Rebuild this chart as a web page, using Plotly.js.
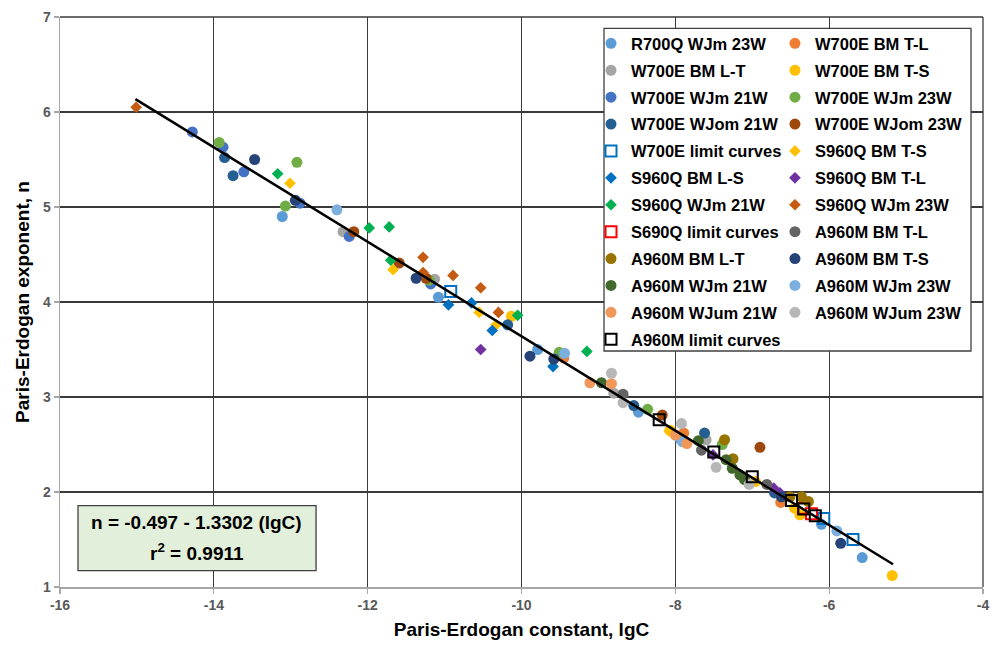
<!DOCTYPE html>
<html>
<head>
<meta charset="utf-8">
<script src="https://cdn.plot.ly/plotly-3.0.1.min.js"></script>
<style>
  html, body { margin: 0; padding: 0; background: #ffffff; }
  #chart { width: 998px; height: 645px; }
</style>
</head>
<body>
<div id="chart"></div>
<script>
// ---------------- data ----------------
const seriesNames = [
  "R700Q WJm 23W", "W700E BM T-L", "W700E BM L-T", "W700E BM T-S",
  "W700E WJm 21W", "W700E WJm 23W", "W700E WJom 21W", "W700E WJom 23W",
  "W700E limit curves", "S960Q BM T-S", "S960Q BM L-S", "S960Q BM T-L",
  "S960Q WJm 21W", "S960Q WJm 23W", "S690Q limit curves", "A960M BM T-L",
  "A960M BM L-T", "A960M BM T-S", "A960M WJm 21W", "A960M WJm 23W",
  "A960M WJum 21W", "A960M WJum 23W", "A960M limit curves"
];

const x_R700Q_WJm23W = [-13.11, -11.08, -9.79, -8.48, -7.94, -6.10, -5.57];
const y_R700Q_WJm23W = [4.90, 4.05, 3.50, 2.84, 2.56, 1.66, 1.31];

const x_W700E_BM_TL = [-9.45, -7.89, -6.63];
const y_W700E_BM_TL = [3.41, 2.62, 1.89];

const x_W700E_BM_LT = [-12.32, -11.13, -8.80, -7.60];
const y_W700E_BM_LT = [4.74, 4.24, 3.04, 2.55];

const x_W700E_BM_TS = [-10.13, -8.07, -6.96, -6.45, -6.38, -5.18];
const y_W700E_BM_TS = [3.85, 2.65, 2.11, 1.83, 1.76, 1.12];

const x_W700E_WJm21W = [-14.28, -13.88, -13.61, -12.88, -12.24, -11.18];
const y_W700E_WJm21W = [5.79, 5.63, 5.37, 5.04, 4.69, 4.19];

const x_W700E_WJm23W = [-13.93, -12.92, -13.07, -11.20, -9.51, -8.36, -7.39];
const y_W700E_WJm23W = [5.68, 5.47, 5.01, 4.23, 3.47, 2.87, 2.50];

const x_W700E_WJom21W = [-13.86, -13.75, -10.18, -8.54, -7.62, -6.71];
const y_W700E_WJom21W = [5.52, 5.33, 3.76, 2.91, 2.62, 1.99];

const x_W700E_WJom23W = [-12.18, -11.59, -11.24, -8.17, -6.90];
const y_W700E_WJom23W = [4.74, 4.41, 4.25, 2.81, 2.47];

const x_W700E_limit = [-10.92, -6.07, -5.69];
const y_W700E_limit = [4.11, 1.72, 1.50];

const x_S960Q_BM_TS = [-13.01, -11.67, -10.55, -10.33, -8.08];
const y_S960Q_BM_TS = [5.25, 4.34, 3.89, 3.76, 2.64];

const x_S960Q_BM_LS = [-10.95, -10.65, -10.38, -9.59];
const y_S960Q_BM_LS = [3.97, 3.99, 3.70, 3.32];

const x_S960Q_BM_TL = [-10.53, -7.51, -6.72, -6.64];
const y_S960Q_BM_TL = [3.50, 2.39, 2.04, 1.99];

const x_S960Q_WJm21W = [-13.17, -11.98, -11.72, -11.70, -10.05, -9.15];
const y_S960Q_WJm21W = [5.35, 4.78, 4.79, 4.44, 3.86, 3.48];

const x_S960Q_WJm23W = [-15.01, -11.28, -11.28, -10.89, -10.53, -10.30];
const y_S960Q_WJm23W = [6.05, 4.47, 4.31, 4.28, 4.15, 3.89];

const x_S690Q_limit = [-6.33, -6.23];
const y_S690Q_limit = [1.83, 1.77];

const x_A960M_BM_TL = [-8.68, -7.66, -6.81];
const y_A960M_BM_TL = [3.03, 2.44, 2.08];

const x_A960M_BM_LT = [-7.36, -7.25, -6.51, -6.36, -6.27];
const y_A960M_BM_LT = [2.55, 2.35, 1.95, 1.95, 1.90];

const x_A960M_BM_TS = [-13.47, -12.94, -11.37, -9.89, -9.58, -6.62, -5.85];
const y_A960M_BM_TS = [5.50, 5.07, 4.25, 3.43, 3.40, 1.95, 1.46];

const x_A960M_WJm21W = [-8.96, -7.70, -7.34, -7.26, -7.16, -7.10];
const y_A960M_WJm21W = [3.15, 2.54, 2.34, 2.25, 2.18, 2.13];

const x_A960M_WJm23W = [-12.40, -9.44, -7.91, -5.90];
const y_A960M_WJm23W = [4.97, 3.46, 2.53, 1.59];

const x_A960M_WJum21W = [-9.11, -8.83, -8.00, -7.85];
const y_A960M_WJum21W = [3.15, 3.14, 2.60, 2.51];

const x_A960M_WJum23W = [-8.83, -8.68, -7.92, -7.47, -7.04];
const y_A960M_WJum23W = [3.25, 2.94, 2.72, 2.26, 2.08];

const x_A960M_limit = [-8.21, -7.50, -7.00, -6.49, -6.33, -6.18];
const y_A960M_limit = [2.76, 2.42, 2.16, 1.91, 1.82, 1.75];

// regression line end points
const fitX = [-15.02, -5.17];
const fitY = [6.135, 1.239];

const xTickVals = [-16, -14, -12, -10, -8, -6, -4];
const xTickText = ["-16", "-14", "-12", "-10", "-8", "-6", "-4"];
const yTickVals = [1, 2, 3, 4, 5, 6, 7];
const yTickText = ["1", "2", "3", "4", "5", "6", "7"];

const eqLine1 = "n = -0.497 - 1.3302 (lgC)";
const eqLine2 = "r<sup>2</sup> = 0.9911";

// ---------------- styling ----------------
const xs = [x_R700Q_WJm23W, x_W700E_BM_TL, x_W700E_BM_LT, x_W700E_BM_TS, x_W700E_WJm21W,
  x_W700E_WJm23W, x_W700E_WJom21W, x_W700E_WJom23W, x_W700E_limit, x_S960Q_BM_TS,
  x_S960Q_BM_LS, x_S960Q_BM_TL, x_S960Q_WJm21W, x_S960Q_WJm23W, x_S690Q_limit,
  x_A960M_BM_TL, x_A960M_BM_LT, x_A960M_BM_TS, x_A960M_WJm21W, x_A960M_WJm23W,
  x_A960M_WJum21W, x_A960M_WJum23W, x_A960M_limit];
const ys = [y_R700Q_WJm23W, y_W700E_BM_TL, y_W700E_BM_LT, y_W700E_BM_TS, y_W700E_WJm21W,
  y_W700E_WJm23W, y_W700E_WJom21W, y_W700E_WJom23W, y_W700E_limit, y_S960Q_BM_TS,
  y_S960Q_BM_LS, y_S960Q_BM_TL, y_S960Q_WJm21W, y_S960Q_WJm23W, y_S690Q_limit,
  y_A960M_BM_TL, y_A960M_BM_LT, y_A960M_BM_TS, y_A960M_WJm21W, y_A960M_WJm23W,
  y_A960M_WJum21W, y_A960M_WJum23W, y_A960M_limit];
const colors = ["#5B9BD5", "#ED7D31", "#A5A5A5", "#FFC000", "#4472C4", "#70AD47", "#255E91",
  "#9E480E", "#0070C0", "#FFC000", "#0070C0", "#7030A0", "#00B050", "#C55A11", "#FF0000",
  "#636363", "#997300", "#264478", "#43682B", "#7CAFDD", "#F1975A", "#B7B7B7", "#000000"];
const kinds = ["c","c","c","c","c","c","c","c","s","d","d","d","d","d","s",
  "c","c","c","c","c","c","c","s"];

const traces = [];
seriesNames.forEach((name, i) => {
  const k = kinds[i];
  const marker = k === "c" ? {symbol: "circle", size: 11, color: colors[i]} :
                 k === "d" ? {symbol: "diamond", size: 9, color: colors[i]} :
                 {symbol: "square-open", size: 11, color: colors[i], line: {width: 2, color: colors[i]}};
  traces.push({
    type: "scatter", mode: "markers", name: name,
    x: xs[i], y: ys[i], marker: marker,
    legend: (i % 2 === 0) ? "legend" : "legend2",
    legendgroup: "g" + i,
    hoverinfo: "skip"
  });
});
traces.push({
  type: "scatter", mode: "lines", x: fitX, y: fitY,
  line: {color: "#000000", width: 2.5}, showlegend: false, hoverinfo: "skip"
});

const FONT = "Liberation Sans, Arial, sans-serif";
const legendCommon = {
  bgcolor: "rgba(0,0,0,0)", borderwidth: 0,
  font: {family: FONT, size: 16.5, color: "#000000", weight: "bold"},
  yanchor: "top", xanchor: "left", y: 0.984,
  tracegroupgap: 2.45, itemwidth: 30, traceorder: "grouped"
};

const layout = {
  width: 998, height: 645,
  margin: {l: 60, r: 15, t: 17, b: 58},
  paper_bgcolor: "#ffffff", plot_bgcolor: "#ffffff",
  showlegend: true,
  font: {family: FONT},
  xaxis: {
    range: [-16, -4], tickvals: xTickVals, ticktext: xTickText,
    showgrid: true, gridcolor: "#3a3a3a", gridwidth: 1.3,
    zeroline: false, showline: true, linecolor: "#a6a6a6", linewidth: 1.5,
    ticks: "outside", ticklen: 5, tickcolor: "#a6a6a6", tickwidth: 1.3,
    tickfont: {family: FONT, size: 14, color: "#595959", weight: "bold"},
    title: {text: "Paris-Erdogan constant, lgC", standoff: 10,
            font: {family: FONT, size: 19, color: "#000000", weight: "bold"}}
  },
  yaxis: {
    range: [1, 7], tickvals: yTickVals, ticktext: yTickText,
    showgrid: true, gridcolor: "#3a3a3a", gridwidth: 1.3,
    zeroline: false, showline: true, linecolor: "#a6a6a6", linewidth: 1.5,
    ticks: "outside", ticklen: 5, tickcolor: "#a6a6a6", tickwidth: 1.3,
    tickfont: {family: FONT, size: 14, color: "#595959", weight: "bold"},
    title: {text: "Paris-Erdogan exponent, n", standoff: 8,
            font: {family: FONT, size: 19, color: "#000000", weight: "bold"}}
  },
  legend: Object.assign({}, legendCommon, {x: 0.5753}),
  legend2: Object.assign({}, legendCommon, {x: 0.7746}),
  shapes: [
    {type: "line", xref: "paper", yref: "paper", x0: 0, x1: 1, y0: 1, y1: 1,
     line: {color: "#3a3a3a", width: 1.3}, layer: "below"},
    {type: "line", xref: "paper", yref: "paper", x0: 1, x1: 1, y0: 0, y1: 1,
     line: {color: "#3a3a3a", width: 1.3}, layer: "below"},
    {type: "rect", xref: "paper", yref: "paper", x0: 0.5894, x1: 0.987, y0: 0.414, y1: 0.980,
     fillcolor: "#ffffff", line: {color: "#404040", width: 1.3}, layer: "above"},
    {type: "rect", xref: "paper", yref: "paper", x0: 0.0195, x1: 0.2774, y0: 0.0286, y1: 0.1426,
     fillcolor: "#E2EFDA", line: {color: "#404040", width: 1.3}, layer: "above"}
  ],
  annotations: [
    {xref: "paper", yref: "paper", x: 0.1484, y: 0.114, showarrow: false,
     text: eqLine1, xanchor: "center", yanchor: "middle",
     font: {family: FONT, size: 19, color: "#000000", weight: "bold"}},
    {xref: "paper", yref: "paper", x: 0.1484, y: 0.0614, showarrow: false,
     text: eqLine2, xanchor: "center", yanchor: "middle",
     font: {family: FONT, size: 19, color: "#000000", weight: "bold"}}
  ]
};

Plotly.newPlot("chart", traces, layout, {staticPlot: true, displayModeBar: false});
</script>
</body>
</html>
